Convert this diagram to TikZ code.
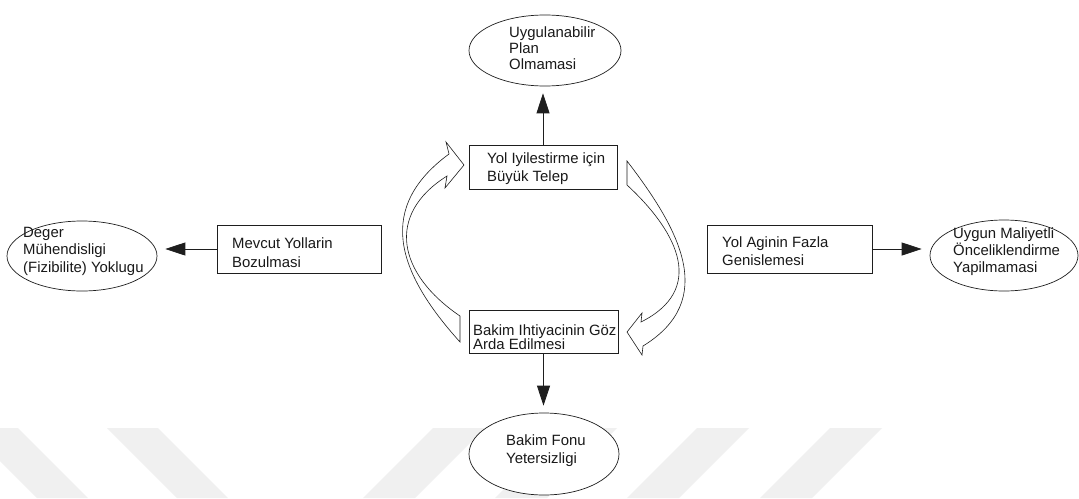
\documentclass[tikz,border=0pt]{standalone}
\usepackage{fontspec}
\setmainfont{Liberation Sans}
\usetikzlibrary{shapes.geometric,arrows.meta}
\definecolor{txt}{RGB}{25,25,25}
\definecolor{ln}{RGB}{30,30,30}
\definecolor{wm}{RGB}{240,240,240}
\begin{document}
\begin{tikzpicture}[x=1pt,y=-1pt,
  box/.style={draw=ln,line width=0.8pt,fill=white,inner sep=0pt},
  oval/.style={ellipse,draw=ln,line width=0.7pt,fill=white,inner sep=0pt},
  lbl/.style={anchor=north west,inner sep=0pt,align=left,text=txt,font=\fontsize{14.9pt}{#1}\selectfont},
  lbl/.default=17.5pt,
  conn/.style={draw=ln,line width=0.8pt,-{Triangle[length=20pt,width=13pt]}},
  blockarrow/.style={draw=ln,line width=0.6pt,fill=white,line join=miter},
  stripe/.style={fill=wm,draw=none}]
% background and bounding box
\path[fill=white,use as bounding box] (0,0) rectangle (1079,498);
% watermark stripes
\begin{scope}
\clip (0,0) rectangle (1079,498);
\foreach \x in {-33,107}{
  \path[stripe] (\x,428) -- (\x+51,428) -- (\x+121,498) -- (\x+70,498) -- cycle;}
\foreach \x in {433,565,697,830}{
  \path[stripe] (\x,428) -- (\x+52,428) -- (\x-18,498) -- (\x-70,498) -- cycle;}
\end{scope}
% boxes
\node[box,minimum width=148pt,minimum height=44pt] (topBox) at (543,167) {};
\node[box,minimum width=149pt,minimum height=43pt] (botBox) at (543.5,331.5) {};
\node[box,minimum width=164pt,minimum height=48pt] (leftBox) at (299,249) {};
\node[box,minimum width=165pt,minimum height=48pt] (rightBox) at (789.5,249) {};
% ellipses
\node[oval,minimum width=152pt,minimum height=71pt] (topE) at (545,50.5) {};
\node[oval,minimum width=150pt,minimum height=82pt] (botE) at (544,454) {};
\node[oval,minimum width=150pt,minimum height=70pt] (leftE) at (82,256) {};
\node[oval,minimum width=148pt,minimum height=71pt] (rightE) at (1004,255.5) {};
% texts
\node[lbl=16pt] (tTopE) at (509,26.5) {Uygulanabilir\\Plan\\Olmamasi};
\node[lbl=17.7pt] (tTopBox) at (487,152.7) {Yol Iyilestirme için\\Büyük Telep};
\node[lbl=14pt] (tBotBox) at (473,324.3) {Bakim Ihtiyacinin Göz\\Arda Edilmesi};
\node[lbl=18pt] (tBotE) at (506,434.3) {Bakim Fonu\\Yetersizligi};
\node[lbl=17.2pt] (tLeftE) at (23,227.3) {Deger\\Mühendisligi\\(Fizibilite) Yoklugu};
\node[lbl=19pt] (tLeftBox) at (232,237.7) {Mevcut Yollarin\\Bozulmasi};
\node[lbl=17.6pt] (tRightBox) at (722,236.7) {Yol Aginin Fazla\\Genislemesi};
\node[lbl=17pt] (tRightE) at (953,227.7) {Uygun Maliyetli\\Önceliklendirme\\Yapilmamasi};
% straight connectors
\draw[conn,shorten >=7pt] (topBox.north) -- (topBox.north |- topE.south);
\draw[conn,shorten >=7pt] (botBox.south) -- (botBox.south |- botE.north);
\draw[conn,shorten >=8pt] (leftBox.west) -- (leftBox.west -| leftE.east);
\draw[conn,shorten >=8pt] (rightBox.east) -- (rightBox.east -| rightE.west);
% curved block arrows
\path[blockarrow] (460,342) .. controls (395,270) and (377,207) .. (449,154)
  -- (446,142) -- (464,165) -- (445,188) -- (447,176)
  .. controls (385,215) and (398,274) .. (460,316) -- cycle;
\path[blockarrow] (627,161) .. controls (680,230) and (718,300) .. (643,346)
  -- (642,355) -- (627,332) -- (642,313) -- (641,322)
  .. controls (705,290) and (680,234) .. (627,185) -- cycle;
\end{tikzpicture}
\end{document}
